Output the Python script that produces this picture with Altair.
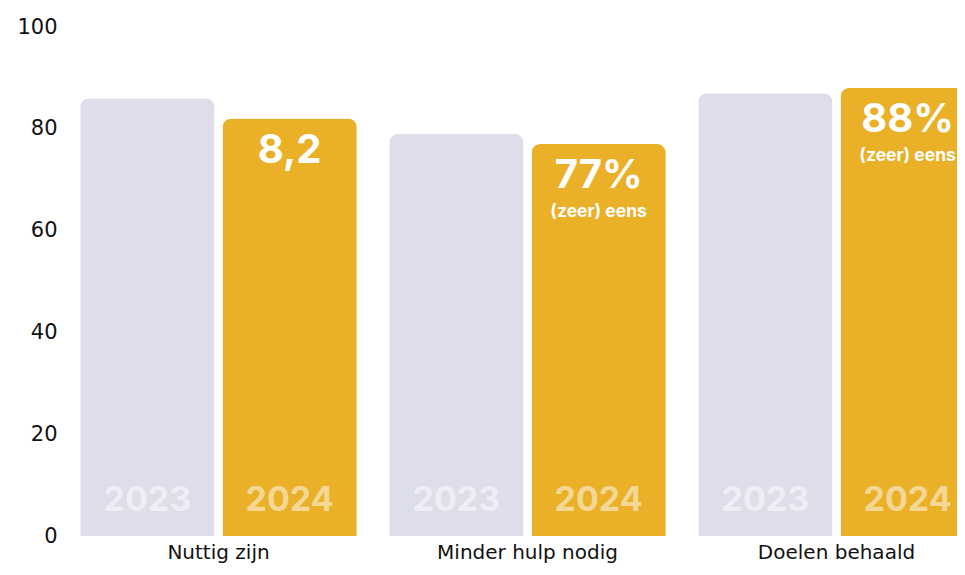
import altair as alt
import pandas as pd

categories = ["Nuttig zijn", "Minder hulp nodig", "Doelen behaald"]
years = ["2023", "2024"]
values_2023 = [86, 79, 87]
values_2024 = [82, 77, 88]
main_labels = ["8,2", "77%", "88%"]
sub_labels = ["", "(zeer) eens", "(zeer) eens"]

rows = []
for c, v23, v24 in zip(categories, values_2023, values_2024):
    rows.append({"cat": c, "year": "2023", "value": v23})
    rows.append({"cat": c, "year": "2024", "value": v24})
df = pd.DataFrame(rows)

lab = pd.DataFrame({
    "cat": categories,
    "year": ["2024"] * 3,
    "value": values_2024,
    "main": main_labels,
    "sub": sub_labels,
})

x_enc = alt.X("cat:N", sort=categories, title=None,
              scale=alt.Scale(range=[0, 927], paddingInner=0.105, paddingOuter=0.0525),
              axis=alt.Axis(labelAngle=0, domain=False, ticks=False, labelPadding=6, labelLimit=0,
                            labelFontSize=20, labelFont="DejaVu Sans", labelColor="#111111"))
xo_enc = alt.XOffset("year:N", sort=years, scale=alt.Scale(paddingInner=0.056, paddingOuter=0))
y_enc = alt.Y("value:Q", title=None,
              scale=alt.Scale(domain=[0, 100]),
              axis=alt.Axis(values=[0, 20, 40, 60, 80, 100], domain=False, ticks=False, grid=False,
                            labelPadding=7, labelFontSize=21, labelFont="DejaVu Sans", labelColor="#111111"))

bars = alt.Chart(df).mark_bar(cornerRadiusTopLeft=9, cornerRadiusTopRight=9).encode(
    x=x_enc, xOffset=xo_enc, y=y_enc,
    color=alt.Color("year:N", sort=years,
                    scale=alt.Scale(domain=years, range=["#dddeea", "#eab028"]), legend=None),
)

year_text = alt.Chart(df).mark_text(font="Inter", fontSize=34, fontWeight="bold",
                                    color="white", opacity=0.5, baseline="middle", dy=-35).encode(
    x=x_enc, xOffset=xo_enc, y=alt.datum(0), text="year:N",
)

main_text = alt.Chart(lab).mark_text(font="Inter", fontSize=40, fontWeight="bold",
                                     color="white", baseline="middle", dy=32).encode(
    x=x_enc, xOffset=xo_enc, y="value:Q", text="main:N",
)

sub_text = alt.Chart(lab).mark_text(font="Inter", fontSize=17.5, fontWeight="bold",
                                    color="white", baseline="middle", dy=68).encode(
    x=x_enc, xOffset=xo_enc, y="value:Q", text="sub:N",
)

chart = alt.layer(bars, year_text, main_text, sub_text).properties(
    width=893, height=509,
    autosize=alt.AutoSizeParams(type="none"),
    padding={"left": 56, "top": 19, "right": 0, "bottom": 31},
).configure_view(stroke=None)

chart.save("out.html", embed_options={"renderer": "svg", "actions": False})
